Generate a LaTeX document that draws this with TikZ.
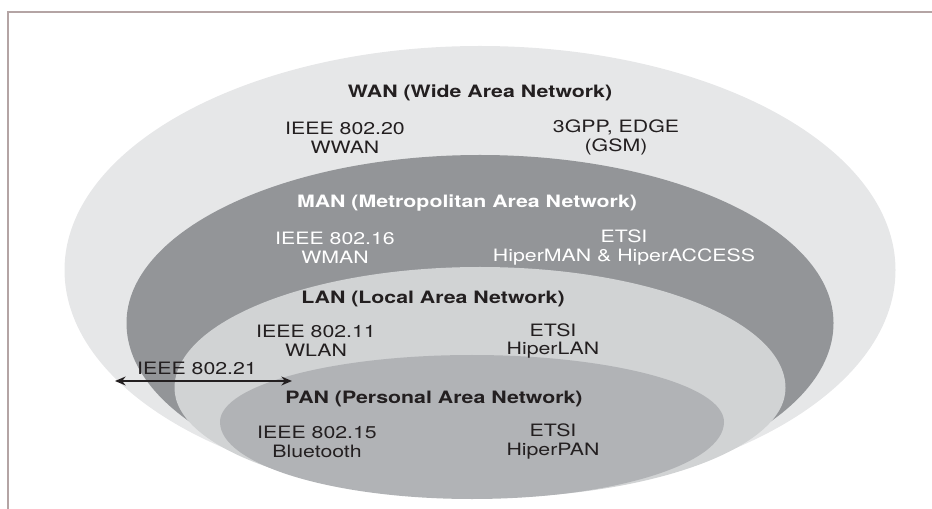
\documentclass[tikz,border=0pt]{standalone}
\usepackage{fontspec}
\setmainfont{TeX Gyre Heros}[FakeStretch=1.25]
\usetikzlibrary{arrows.meta}

\definecolor{wangray}{HTML}{E6E7E8}
\definecolor{mangray}{HTML}{939598}
\definecolor{langray}{HTML}{D1D3D4}
\definecolor{pangray}{HTML}{B1B3B6}
\definecolor{inkgray}{HTML}{231F20}
\definecolor{framegray}{HTML}{B4A4A4}

\tikzset{
  nettitle/.style={font=\bfseries\fontsize{9.7}{10.8}\selectfont, text=inkgray, anchor=base, inner sep=0pt},
  netitem/.style={font=\fontsize{9.7}{10.8}\selectfont, text=inkgray, align=center, inner sep=0pt},
}

\begin{document}
\begin{tikzpicture}[x=0.02cm,y=-0.02cm]
	\useasboundingbox (0,0) rectangle (932,509);
	\draw[framegray, line width=0.6pt] (8,509) -- (8,12) -- (932,12);

	% nested areas, outside in
	\fill[wangray] (64.5,270) arc[start angle=180, end angle=360, x radius=415.5, y radius=224]
		arc[start angle=0, end angle=180, x radius=415.5, y radius=226] -- cycle;
	\fill[mangray] (126.5,323) arc[start angle=180, end angle=360, x radius=353.5, y radius=168]
		arc[start angle=0, end angle=180, x radius=353.5, y radius=173] -- cycle;
	\fill[langray] (174.5,388) arc[start angle=180, end angle=360, x radius=305.5, y radius=121]
		arc[start angle=0, end angle=180, x radius=305.5, y radius=110] -- cycle;
	\fill[pangray] (220,422) arc[start angle=180, end angle=360, x radius=252, y radius=67]
		arc[start angle=0, end angle=180, x radius=252, y radius=77] -- cycle;

	\node[nettitle] (wan) at (480,97.5) {WAN (Wide Area Network)};
	\node[netitem] (wwan) at (345,137.5) {IEEE 802.20\\WWAN};
	\node[netitem] (gsm) at (616,137.5) {3GPP, EDGE\\(GSM)};

	\node[nettitle, text=white] (man) at (467,207.3) {MAN (Metropolitan Area Network)};
	\node[netitem, text=white] (wman) at (335,248) {IEEE 802.16\\WMAN};
	\node[netitem, text=white] (hipman) at (624,247.5) {ETSI\\HiperMAN \& HiperACCESS};

	\node[nettitle] (lan) at (433,303.3) {LAN (Local Area Network)};
	\node[netitem] (wlan) at (316,341) {IEEE 802.11\\WLAN};
	\node[netitem] (hiplan) at (553,341) {ETSI\\HiperLAN};

	\node[nettitle] (pan) at (434,403.3) {PAN (Personal Area Network)};
	\node[netitem] (bt) at (317,441.5) {IEEE 802.15\\Bluetooth};
	\node[netitem] (hippan) at (553,441.5) {ETSI\\HiperPAN};

	% handover across the areas
	\coordinate (holeft) at (115,381);
	\coordinate (horight) at (292,381);
	\draw[inkgray, line width=1.1pt, {Stealth[length=6pt,width=5pt]}-{Stealth[length=6pt,width=5pt]}] (holeft) -- (horight);
	\node[nettitle, font=\fontsize{9.7}{10.8}\selectfont] (mih) at (197,375) {IEEE 802.21};
\end{tikzpicture}
\end{document}
